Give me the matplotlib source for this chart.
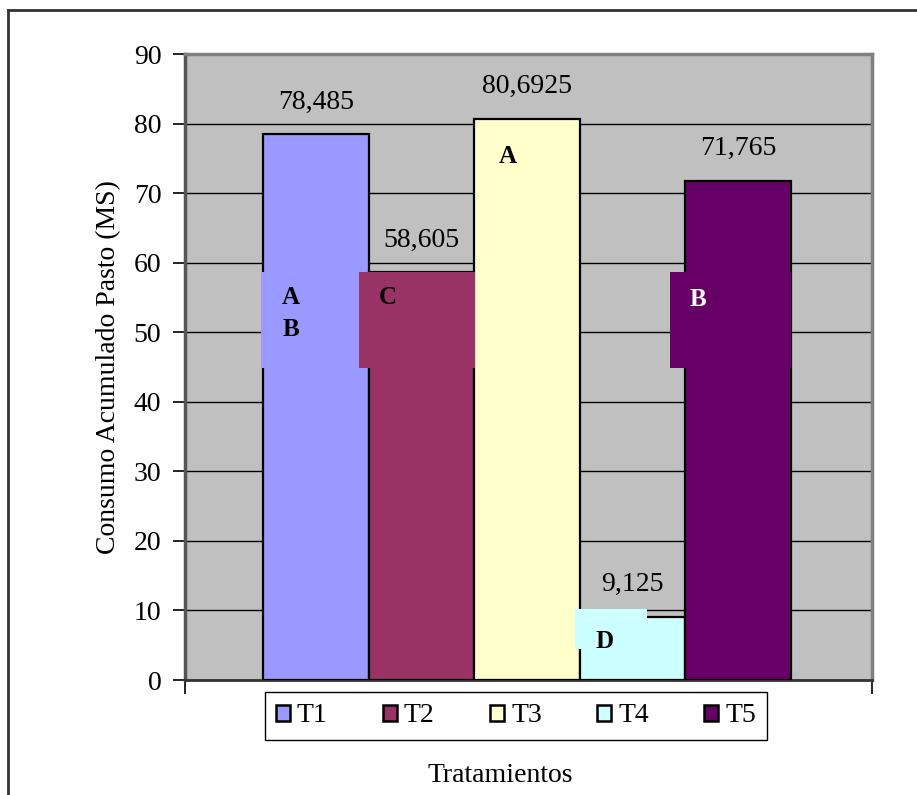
import matplotlib.pyplot as plt
from matplotlib.patches import Rectangle
from matplotlib.lines import Line2D

# Tratamientos y consumo acumulado de pasto (MS)
tratamientos = ['T1', 'T2', 'T3', 'T4', 'T5']
consumo = [78.485, 58.605, 80.6925, 9.125, 71.765]
etiquetas = ['78,485', '58,605', '80,6925', '9,125', '71,765']
colores = ['#9999FF', '#993366', '#FFFFCC', '#CCFFFF', '#660066']

plt.rcParams['font.family'] = 'Liberation Serif'
FONT_SIZE = 20

fig = plt.figure(figsize=(9.17, 7.95), dpi=100)
ax = fig.add_axes([185 / 917, 1 - 680 / 795, 687 / 917, 626 / 795])
ax.set_facecolor('#C0C0C0')

x = list(range(len(tratamientos)))
bars = ax.bar(x, consumo, width=1.0, color=colores, edgecolor='black',
              linewidth=1.6, zorder=3)

ax.set_xlim(-1.239, 5.266)
ax.set_ylim(0, 90)
ax.set_yticks(range(0, 100, 10))
ax.tick_params(axis='y', labelsize=FONT_SIZE, length=9, width=1.2, direction='out', pad=8)
ax.set_xticks([-1.239, 5.266])
ax.set_xticklabels(['', ''])
ax.tick_params(axis='x', length=10, width=1.2, direction='out')
ax.yaxis.grid(True, color='black', linewidth=1.0, zorder=1)
ax.set_axisbelow(True)

for side in ['top', 'right']:
    ax.spines[side].set_color('#808080')
    ax.spines[side].set_linewidth(2.5)
ax.spines['left'].set_color('#555555')
ax.spines['left'].set_linewidth(2.5)
ax.spines['bottom'].set_color('#333333')
ax.spines['bottom'].set_linewidth(2)

# valores encima de cada barra
for b, txt in zip(bars, etiquetas):
    ax.annotate(txt, (b.get_x() + b.get_width() / 2, b.get_height()),
                xytext=(0, 32), textcoords='offset pixels',
                ha='center', va='center', fontsize=FONT_SIZE, zorder=5)

# cuadros con letras de significancia
cuadros = [(-0.52, 44.9, 1.02, 13.7, colores[0]),
           (0.409, 44.9, 1.098, 13.7, colores[1]),
           (3.354, 44.9, 1.146, 13.7, colores[4])]
for x0, y0, w, h, c in cuadros:
    ax.add_patch(Rectangle((x0, y0), w, h, facecolor=c, edgecolor='none', zorder=4))

caja_d = Rectangle((2.454, 4.46), 0.682, 5.76, facecolor=colores[3],
                   edgecolor='none', zorder=4)
ax.add_patch(caja_d)

letras = [(-0.235, 55.0, 'A', 'black'), (-0.235, 50.4, 'B', 'black'),
          (0.683, 55.0, 'C', 'black'), (1.82, 75.3, 'A', 'black'),
          (3.619, 54.7, 'B', 'white')]
for lx, ly, s, c in letras:
    ax.text(lx, ly, s, ha='center', va='center', fontsize=18,
            fontweight='bold', color=c, zorder=6)
# la D queda recortada por su cuadro
d = ax.text(2.729, 5.6, 'D', ha='center', va='center', fontsize=18,
            fontweight='bold', color='black', zorder=6, clip_on=True)
d.set_clip_path(caja_d)

ax.set_ylabel('Consumo Acumulado Pasto (MS)', fontsize=FONT_SIZE, labelpad=9)
fig.text(500 / 917, 1 - 776 / 795, 'Tratamientos', ha='center', va='center',
         fontsize=FONT_SIZE)

handles = [Rectangle((0, 0), 1, 1, facecolor=c, edgecolor='black', linewidth=1.8)
           for c in colores]
leg = fig.legend(handles, tratamientos, loc='center', ncol=5,
                 bbox_to_anchor=(516 / 917, 1 - 716 / 795),
                 fontsize=FONT_SIZE, handlelength=0.5, handleheight=0.5,
                 handletextpad=0.25, columnspacing=2.0, fancybox=False,
                 framealpha=1, edgecolor='black', borderpad=0.4)
leg.get_frame().set_linewidth(1.0)

# marco exterior
fig.add_artist(Line2D([8 / 917, 8 / 917], [0, 1 - 10 / 795], color='#333333', linewidth=2))
fig.add_artist(Line2D([8 / 917, 1], [1 - 10 / 795, 1 - 10 / 795], color='#333333', linewidth=2))

fig.savefig('out.png', dpi=100)
